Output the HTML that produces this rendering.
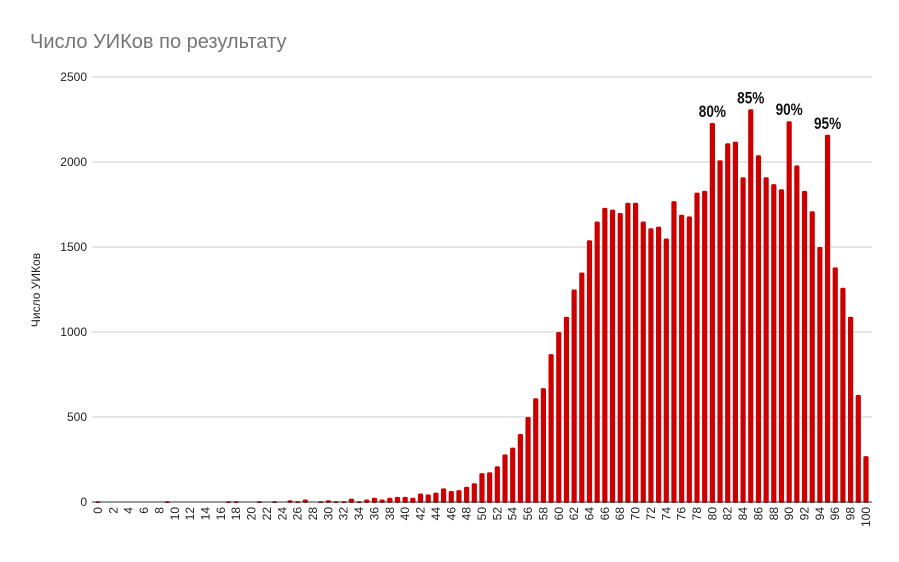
<!DOCTYPE html>
<html><head><meta charset="utf-8"><style>
body{margin:0;background:#fff;font-family:"Liberation Sans",sans-serif}
</style></head><body>
<svg id="c" width="899" height="557" xmlns="http://www.w3.org/2000/svg">
<text x="30" y="48" font-size="20" fill="#757575">Число УИКов по результату</text>
<text transform="translate(40,290) rotate(-90)" text-anchor="middle" font-size="12" fill="#222">Число УИКов</text>
</svg>
<script>
const categories=[];for(let i=0;i<=100;i++)categories.push(i);
const values=[5,0,0,0,0,0,0,0,0,5,0,0,0,0,0,0,0,5,5,0,0,5,0,5,0,10,5,15,0,5,10,5,5,20,5,15,25,15,25,30,30,25,50,45,55,80,65,70,90,110,170,175,210,280,320,400,500,610,670,870,1000,1090,1250,1350,1540,1650,1730,1720,1700,1760,1760,1650,1610,1620,1550,1770,1690,1680,1820,1830,2230,2010,2110,2120,1910,2310,2040,1910,1870,1840,2240,1980,1830,1710,1500,2160,1380,1260,1090,630,270];
const yTicks=[0,500,1000,1500,2000,2500];
const annotations=[{c:80,t:"80%"},{c:85,t:"85%"},{c:90,t:"90%"},{c:95,t:"95%"}];
const svg=document.getElementById('c');const NS="http://www.w3.org/2000/svg";
const gx0=92,gx1=872,x0=94.16,x1=869.8,yb=502,yt=77;
const y=v=>yb-(v/2500)*(yb-yt);
const step=(x1-x0)/categories.length;
const x=c=>x0+step*(c+0.5);
function el(t,a){const e=document.createElementNS(NS,t);for(const k in a)e.setAttribute(k,a[k]);svg.appendChild(e);return e;}
yTicks.forEach(v=>{
 const l=el('line',{x1:gx0,x2:gx1,y1:y(v),y2:y(v),stroke:v?'#ccc':'#333','stroke-width':1});
 
 
 const t=el('text',{x:gx0-5,y:y(v)+4,'text-anchor':'end','font-size':12,fill:'#222'});t.textContent=v;
 
 
});
categories.forEach((c,i)=>{
 const v=values[i];
 if(v>0){const h=yb-y(v);
 const r=el('rect',{x:x(c)-2.6,y:y(v),width:5.2,height:h+1,rx:1.5,fill:'#cc0000'});
 
 }
 if(c%2===0){const t=el('text',{transform:`translate(${x(c)+4},${yb+5}) rotate(-90)`,'text-anchor':'end','font-size':12,fill:'#222'});t.textContent=c;
 
 }
});
el('line',{x1:gx0,x2:gx1,y1:yb,y2:yb,stroke:'#333','stroke-width':1});
annotations.forEach(a=>{
 const t=el('text',{transform:`translate(${x(a.c)},${y(values[a.c])-6}) scale(0.8,1)`,'text-anchor':'middle','font-size':17,'font-weight':'bold',fill:'#111'});t.textContent=a.t;
 
 
});
</script>
</body></html>
